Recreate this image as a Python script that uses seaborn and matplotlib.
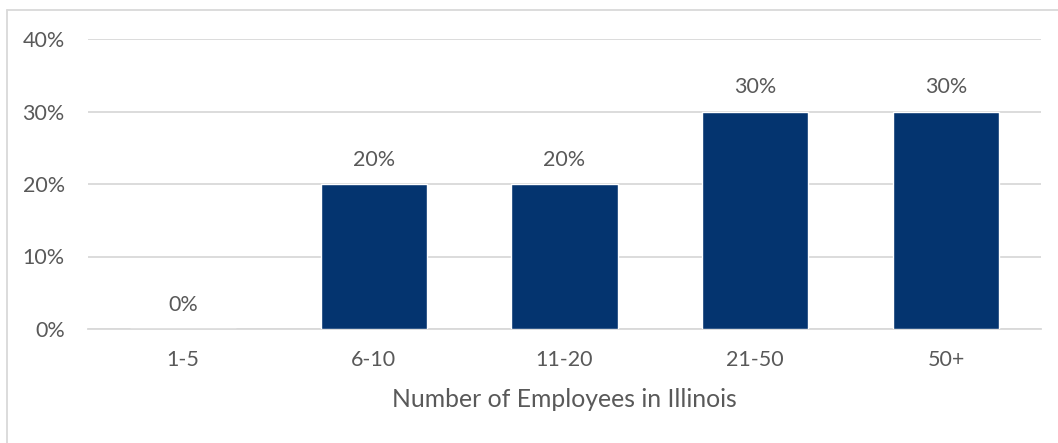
import matplotlib
matplotlib.use("Agg")
import matplotlib.pyplot as plt
import seaborn as sns
import pandas as pd
from matplotlib.lines import Line2D
from matplotlib.ticker import PercentFormatter

categories = ["1-5", "6-10", "11-20", "21-50", "50+"]
values = [0.0, 0.20, 0.20, 0.30, 0.30]
value_labels = ["0%", "20%", "20%", "30%", "30%"]
y_ticks = [0.0, 0.1, 0.2, 0.3, 0.4]
x_title = "Number of Employees in Illinois"

sns.set_style("white")
plt.rcParams['font.family'] = ['Lato', 'DejaVu Sans']

text_color = "#595959"
bar_color = "#04346F"
grid_color = "#D9D9D9"

df = pd.DataFrame({"cat": categories, "val": values})

W, H = 1058, 443
fig = plt.figure(figsize=(W / 100, H / 100), dpi=100)
ax = fig.add_axes([87.6 / W, 1 - 329 / H, (1041.4 - 87.6) / W, (329 - 39) / H])

sns.barplot(data=df, x="cat", y="val", color=bar_color, width=0.556, ax=ax,
            saturation=1, zorder=3)

ax.set_ylim(0, 0.4)
ax.set_yticks(y_ticks)
ax.yaxis.set_major_formatter(PercentFormatter(xmax=1, decimals=0))
ax.set_xlim(-0.5, len(categories) - 0.5)
ax.grid(axis="y", color=grid_color, linewidth=1.3, zorder=0)
for s in ["top", "right", "left"]:
    ax.spines[s].set_visible(False)
ax.spines["bottom"].set_color(grid_color)
ax.spines["bottom"].set_linewidth(1.3)
ax.tick_params(axis="both", length=0, labelsize=15.5, colors=text_color)
ax.tick_params(axis="x", pad=15)
ax.tick_params(axis="y", pad=16.5)
ax.set_xlabel(x_title, fontsize=17.8, color=text_color, labelpad=13)
ax.set_ylabel("")

for i, (v, lab) in enumerate(zip(values, value_labels)):
    ax.annotate(lab, (i, v), xytext=(0, 13), textcoords="offset points",
                ha="center", va="baseline", fontsize=15.5, color=text_color)

# outer chart border (left and top visible)
fig.add_artist(Line2D([6.5 / W, 6.5 / W], [0, 1 - 10 / H], transform=fig.transFigure,
                      color="#D9D9D9", linewidth=1.3))
fig.add_artist(Line2D([6.5 / W, 1], [1 - 10 / H, 1 - 10 / H], transform=fig.transFigure,
                      color="#D9D9D9", linewidth=1.3))

fig.savefig("out.png", dpi=100)
